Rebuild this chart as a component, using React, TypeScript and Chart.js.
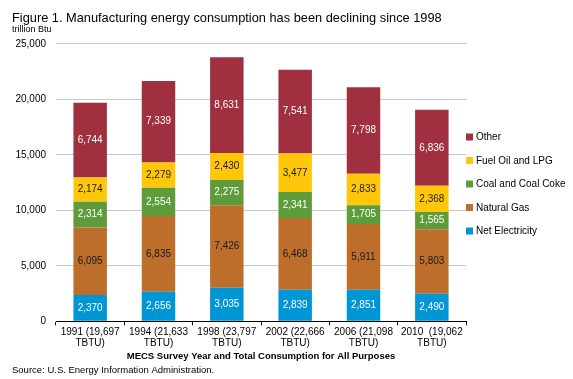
import React, { useEffect, useRef } from "react";
import { Chart, registerables } from "chart.js";

Chart.register(...registerables);

const categories: string[][] = [
  ["1991 (19,697", "TBTU)"],
  ["1994 (21,633", "TBTU)"],
  ["1998 (23,797", "TBTU)"],
  ["2002 (22,666", "TBTU)"],
  ["2006 (21,098", "TBTU)"],
  ["2010  (19,062", "TBTU)"],
];

const netElectricity = [2370, 2656, 3035, 2839, 2851, 2490];
const naturalGas = [6095, 6835, 7426, 6468, 5911, 5803];
const coalAndCoke = [2314, 2554, 2275, 2341, 1705, 1565];
const fuelOilLpg = [2174, 2279, 2430, 3477, 2833, 2368];
const other = [6744, 7339, 8631, 7541, 7798, 6836];

const seriesNames = ["Net Electricity", "Natural Gas", "Coal and Coal Coke", "Fuel Oil and LPG", "Other"];
const seriesColors = ["#0096D6", "#BC6E2A", "#5E9B3A", "#FFC70A", "#A0303F"];
const labelColors = ["#FFFFFF", "#1A1A1A", "#FFFFFF", "#1A1A1A", "#FFFFFF"];

const yTicks = [0, 5000, 10000, 15000, 20000, 25000];

const titleText = "Figure 1. Manufacturing energy consumption has been declining since 1998";
const unitText = "trillion Btu";
const xTitle = "MECS Survey Year and Total Consumption for All Purposes";
const sourceText = "Source: U.S. Energy Information Administration.";

const FONT = "'Liberation Sans', Arial, Helvetica, sans-serif";
const fmt = (v: number) => v.toLocaleString("en-US");

const extrasPlugin = {
  id: "extras",
  afterDatasetsDraw(chart: any) {
    const ctx = chart.ctx;
    ctx.save();
    ctx.font = `10px ${FONT}`;
    ctx.textAlign = "center";
    ctx.textBaseline = "middle";
    chart.data.datasets.forEach((ds: any, di: number) => {
      const meta = chart.getDatasetMeta(di);
      meta.data.forEach((el: any, i: number) => {
        const v = ds.data[i];
        ctx.fillStyle = labelColors[di];
        ctx.fillText(fmt(v), el.x, (el.y + el.base) / 2);
      });
    });
    ctx.restore();
  },
  afterDraw(chart: any) {
    const ctx = chart.ctx;
    const area = chart.chartArea;
    ctx.save();
    // unit label
    ctx.font = `9px ${FONT}`;
    ctx.fillStyle = "#000";
    ctx.textAlign = "left";
    ctx.textBaseline = "middle";
    ctx.fillText(unitText, 12, 30);
    // legend (reversed order)
    const n = chart.data.datasets.length;
    const startY = 137;
    const step = 23.5;
    ctx.font = `10px ${FONT}`;
    for (let k = 0; k < n; k++) {
      const di = n - 1 - k;
      const ds = chart.data.datasets[di];
      const y = startY + k * step;
      const x = area.right;
      ctx.fillStyle = ds.backgroundColor;
      ctx.fillRect(x, y - 3.5, 7, 7);
      ctx.fillStyle = "#000";
      ctx.fillText(ds.label, x + 10, y + 0.5);
    }
    ctx.restore();
  },
};

export default function App() {
  const ref = useRef<HTMLCanvasElement | null>(null);
  useEffect(() => {
    if (!ref.current) return;
    const dataArrays = [netElectricity, naturalGas, coalAndCoke, fuelOilLpg, other];
    const chart = new Chart(ref.current, {
      type: "bar",
      data: {
        labels: categories,
        datasets: dataArrays.map((d, i) => ({
          label: seriesNames[i],
          data: d,
          backgroundColor: seriesColors[i],
          borderWidth: 0,
          categoryPercentage: 1,
          barPercentage: 0.49,
        })),
      },
      options: {
        responsive: false,
        animation: false,
        devicePixelRatio: 1,
        layout: { padding: { left: 12, right: 107, top: 0, bottom: 0 } },
        plugins: {
          legend: { display: false },
          tooltip: { enabled: false },
          title: {
            display: true,
            text: titleText,
            align: "start",
            color: "#000",
            font: { family: FONT, size: 12.8, weight: "normal" },
            padding: { top: 11, bottom: 17.6 },
          },
          subtitle: {
            display: true,
            text: sourceText,
            position: "bottom",
            align: "start",
            color: "#000",
            font: { family: FONT, size: 9.5, weight: "normal" },
            padding: { top: 1.6, bottom: 3.3 },
          },
        },
        scales: {
          x: {
            stacked: true,
            grid: { drawOnChartArea: false, color: "#000", tickLength: 4, offset: true },
            border: { color: "#000", width: 1 },
            ticks: {
              color: "#000",
              font: { family: FONT, size: 10, lineHeight: 1.1 },
              padding: 1.5,
              maxRotation: 0,
              autoSkip: false,
            },
            title: {
              display: true,
              text: xTitle,
              color: "#000",
              font: { family: FONT, size: 9.5, weight: "bold" },
              padding: { top: 0, bottom: 1 },
            },
          },
          y: {
            stacked: true,
            min: 0,
            max: 25000,
            afterBuildTicks: (scale: any) => {
              scale.ticks = yTicks.map((v) => ({ value: v }));
            },
            afterFit: (scale: any) => {
              scale.width = 44;
            },
            grid: { color: "#C8C8C8", drawTicks: false, lineWidth: 1 },
            border: { display: false },
            ticks: {
              color: "#000",
              font: { family: FONT, size: 10 },
              padding: 10,
              callback: (v: any) => fmt(Number(v)),
            },
          },
        },
      },
      plugins: [extrasPlugin],
    });
    return () => chart.destroy();
  }, []);
  return (
    <div style={{ position: "absolute", left: 0, top: 0, width: 573, height: 379, background: "#fff" }}>
      <canvas ref={ref} width={573} height={379} />
    </div>
  );
}
